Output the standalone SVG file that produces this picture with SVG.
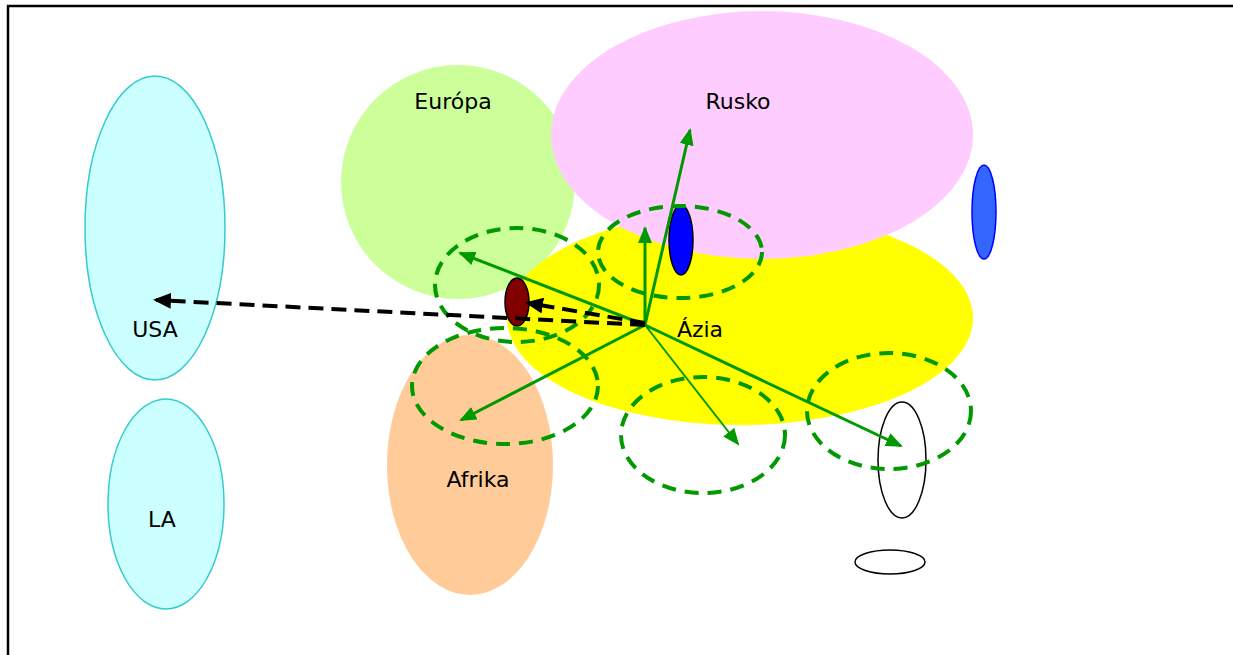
<svg xmlns="http://www.w3.org/2000/svg" width="1233" height="655" viewBox="0 0 1233 655">
<style>
.lbl{font-family:"DejaVu Sans","Liberation Sans",sans-serif;font-size:22px;fill:#000;text-anchor:middle}
.zone{fill:none;stroke:#009900;stroke-width:4;stroke-dasharray:14 9}
.arr{stroke:#009900;stroke-width:3;fill:none;marker-end:url(#ga)}
.blk{stroke:#000;stroke-width:4;fill:none;stroke-dasharray:15 8;marker-end:url(#ba)}
</style>
<defs>
<marker id="ga" markerWidth="17" markerHeight="14" refX="15" refY="7" orient="auto" markerUnits="userSpaceOnUse"><path d="M0,0 L17,7 L0,14 Z" fill="#009900"/></marker>
<marker id="ba" markerWidth="18" markerHeight="16" refX="15" refY="8" orient="auto" markerUnits="userSpaceOnUse"><path d="M0,0 L18,8 L0,16 Z" fill="#000"/></marker>
</defs>
<rect width="1233" height="655" fill="#fff"/>
<path d="M8,655 V6 H1233" fill="none" stroke="#000" stroke-width="2.5"/>
<g id="usa"><ellipse cx="155" cy="228" rx="70" ry="152" fill="#ccffff" stroke="#33cccc" stroke-width="1.5"/><text class="lbl" x="155" y="337">USA</text></g>
<g id="la"><ellipse cx="166" cy="504" rx="58" ry="105" fill="#ccffff" stroke="#33cccc" stroke-width="1.5"/><text class="lbl" x="162" y="527">LA</text></g>
<g id="europa"><ellipse cx="458" cy="182" rx="117" ry="117" fill="#ccff99"/><text class="lbl" x="453" y="109">Európa</text></g>
<g id="azia"><ellipse cx="740" cy="318" rx="233" ry="107" fill="#ffff00"/></g>
<g id="rusko"><ellipse cx="762" cy="135" rx="211" ry="124" fill="#ffccff"/><text class="lbl" x="738" y="109">Rusko</text></g>
<text class="lbl" x="700" y="337">Ázia</text>
<g id="afrika"><ellipse cx="470" cy="465" rx="83" ry="130" fill="#ffcc99"/><text class="lbl" x="478" y="487">Afrika</text></g>
<g id="blue-right"><ellipse cx="984" cy="212" rx="12" ry="47" fill="#3366ff" stroke="#0000ff" stroke-width="1.5"/></g>
<g id="blue-asia"><ellipse cx="681" cy="240" rx="12" ry="35" fill="#0000ff" stroke="#000" stroke-width="1.5"/></g>
<g id="red"><ellipse cx="517" cy="302" rx="12" ry="24" fill="#800000" stroke="#000" stroke-width="1.5"/></g>
<g id="white-tall"><ellipse cx="902" cy="460" rx="24" ry="58" fill="none" stroke="#000" stroke-width="1.5"/></g>
<g id="white-flat"><ellipse cx="890" cy="562" rx="35" ry="12" fill="none" stroke="#000" stroke-width="1.5"/></g>
<g id="zones">
<ellipse class="zone" cx="517" cy="285" rx="82" ry="57"/>
<ellipse class="zone" cx="680" cy="252" rx="82" ry="46"/>
<ellipse class="zone" cx="505" cy="386" rx="93" ry="58"/>
<ellipse class="zone" cx="703" cy="435" rx="82" ry="58"/>
<ellipse class="zone" cx="889" cy="411" rx="82" ry="58"/>
</g>
<g id="connectors">
<line class="arr" x1="645" y1="325" x2="460" y2="253"/>
<line class="arr" x1="645" y1="325" x2="690" y2="130"/>
<line class="arr" x1="645" y1="325" x2="645" y2="228"/>
<line class="arr" x1="645" y1="325" x2="461" y2="420"/>
<line class="arr" x1="645" y1="325" x2="738" y2="444" style="stroke-width:2"/>
<line class="arr" x1="645" y1="325" x2="901" y2="446"/>
<line class="blk" x1="645" y1="325" x2="156" y2="300"/>
<line class="blk" x1="645" y1="323" x2="528" y2="303"/>
</g>
</svg>
